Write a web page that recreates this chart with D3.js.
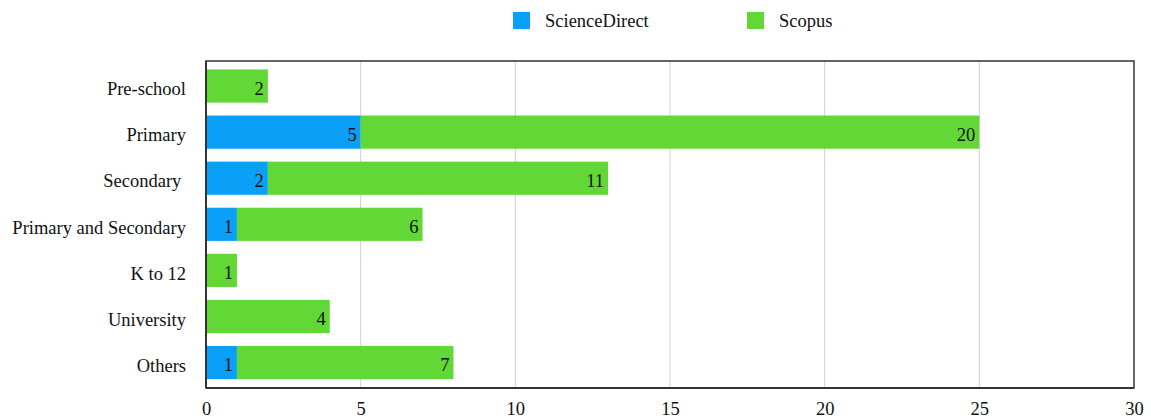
<!DOCTYPE html>
<html><head><meta charset="utf-8">
<script src="https://cdn.jsdelivr.net/npm/d3@7"></script>
<style>body{margin:0;background:#fff}svg{display:block}text{font-family:"Liberation Serif","Times New Roman",Times,serif;fill:#111}</style>
</head><body><svg id="c" width="1151" height="419"></svg>
<script>
const categories = ["Pre-school","Primary","Secondary ","Primary and Secondary","K to 12","University","Others"];
const seriesNames = ["ScienceDirect","Scopus"];
const scienceDirect = [0,5,2,1,0,0,1];
const scopus = [2,20,11,6,1,4,7];
const xTicks = [0,5,10,15,20,25,30];
const colors = ["#0aa0f7","#61d836"];

const FONT = '"Liberation Serif","Times New Roman",Times,serif';
const FS = 18.5;
const svg = d3.select("#c");
const L=206, R=1134, T=61, B=388;
const x = d3.scaleLinear().domain([0,30]).range([L,R]);
const y = d3.scaleBand().domain(categories).range([63,385.6]).paddingInner(0.28).paddingOuter(0.14);

// gridlines
svg.append("g").selectAll("line").data(xTicks.slice(1,-1)).join("line")
  .attr("x1",d=>x(d)).attr("x2",d=>x(d)).attr("y1",T).attr("y2",B)
  .attr("stroke","#d0d0d0").attr("stroke-width",1);

const data = categories.map((c,i)=>({cat:c, vals:[scienceDirect[i], scopus[i]]}));
const g = svg.append("g");
data.forEach(d=>{
  let acc=0;
  d.vals.forEach((v,j)=>{
    if(v<=0) return;
    const x0=acc, x1=acc+v; acc=x1;
    g.append("rect").attr("x",x(x0)).attr("y",y(d.cat)).attr("width",x(x1)-x(x0)).attr("height",y.bandwidth()).attr("fill",colors[j]);
    g.append("text").attr("x",x(x1)-4).attr("y",y(d.cat)+y.bandwidth()/2+8.5)
      .attr("text-anchor","end").attr("font-size",FS).style("font-family",FONT).text(v);
  });
});

// frame
svg.append("rect").attr("x",L).attr("y",T).attr("width",R-L).attr("height",B-T)
  .attr("fill","none").attr("stroke","#333").attr("stroke-width",1.5);
svg.append("line").attr("x1",L).attr("x2",R).attr("y1",B).attr("y2",B).attr("stroke","#333").attr("stroke-width",2);
svg.append("line").attr("x1",L).attr("x2",L).attr("y1",T).attr("y2",B).attr("stroke","#333").attr("stroke-width",2);

// x axis
const xa = d3.axisBottom(x).tickValues(xTicks).tickSize(0).tickPadding(14);
const xg = svg.append("g").attr("transform",`translate(0,${B})`).call(xa);
xg.select(".domain").remove();
xg.selectAll("text").attr("font-size",FS).attr("fill","#111").style("font-family",FONT);

// y axis
const ya = d3.axisLeft(y).tickSize(0).tickPadding(20);
const yg = svg.append("g").attr("transform",`translate(${L},0)`).call(ya);
yg.select(".domain").remove();
yg.selectAll("text").attr("font-size",FS).attr("fill","#111").style("font-family",FONT).style("white-space","pre").attr("dy","0.5em");

// legend
const legX=[513,747];
seriesNames.forEach((s,i)=>{
  svg.append("rect").attr("x",legX[i]).attr("y",12).attr("width",17).attr("height",17).attr("fill",colors[i]);
  svg.append("text").attr("x",legX[i]+32).attr("y",27).attr("font-size",FS).style("font-family",FONT).text(s);
});
</script></body></html>
